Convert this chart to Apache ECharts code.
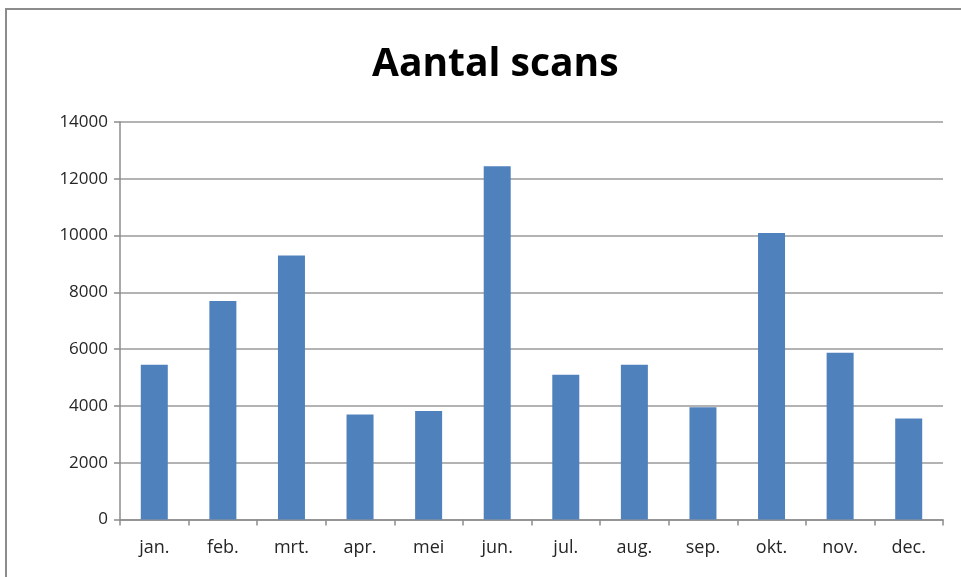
<!DOCTYPE html>
<html>
<head>
<meta charset="utf-8">
<script src="https://cdn.jsdelivr.net/npm/echarts@6/dist/echarts.min.js"></script>
<style>html,body{margin:0;padding:0;background:#fff}#c{width:961px;height:577px}</style>
</head>
<body>
<div id="c"></div>
<script>
const titleText = 'Aantal scans';
const categories = ['jan.', 'feb.', 'mrt.', 'apr.', 'mei', 'jun.', 'jul.', 'aug.', 'sep.', 'okt.', 'nov.', 'dec.'];
const scans = [5450, 7700, 9300, 3700, 3820, 12440, 5100, 5450, 3950, 10090, 5870, 3560];
const yTicks = [0, 2000, 4000, 6000, 8000, 10000, 12000, 14000];

const chart = echarts.init(document.getElementById('c'));
chart.setOption({
  animation: false,
  backgroundColor: '#fff',
  graphic: [{
    type: 'rect', left: 5, top: 8, z: -1,
    shape: { width: 1000, height: 600 },
    style: { fill: '#fff', stroke: '#8c8c8c', lineWidth: 2 }
  }],
  title: {
    text: titleText, left: 367, top: 40,
    textStyle: { fontFamily: 'Open Sans', fontWeight: 'bold', fontSize: 39, color: '#000' }
  },
  grid: { left: 120, right: 18, top: 122, bottom: 57.5 },
  xAxis: {
    type: 'category', data: categories,
    axisLine: { lineStyle: { color: '#8c8c8c', width: 1.5 } },
    axisTick: { show: true, length: 6, lineStyle: { color: '#8c8c8c', width: 1.5 } },
    axisLabel: { margin: 19, fontFamily: 'Open Sans', fontSize: 18, color: '#262626' }
  },
  yAxis: {
    type: 'value', min: yTicks[0], max: yTicks[yTicks.length - 1], interval: 2000,
    axisLine: { show: true, lineStyle: { color: '#8c8c8c', width: 1.5 } },
    axisTick: { show: true, length: 6, lineStyle: { color: '#8c8c8c', width: 1.5 } },
    splitLine: { lineStyle: { color: '#9a9a9a', width: 1.5 } },
    axisLabel: { margin: 12, fontFamily: 'Open Sans', fontSize: 17, color: '#262626',
      formatter: v => String(v) }
  },
  series: [{
    type: 'bar', data: scans, barWidth: 27,
    itemStyle: { color: '#4F81BD' }
  }]
});
</script>
</body>
</html>
